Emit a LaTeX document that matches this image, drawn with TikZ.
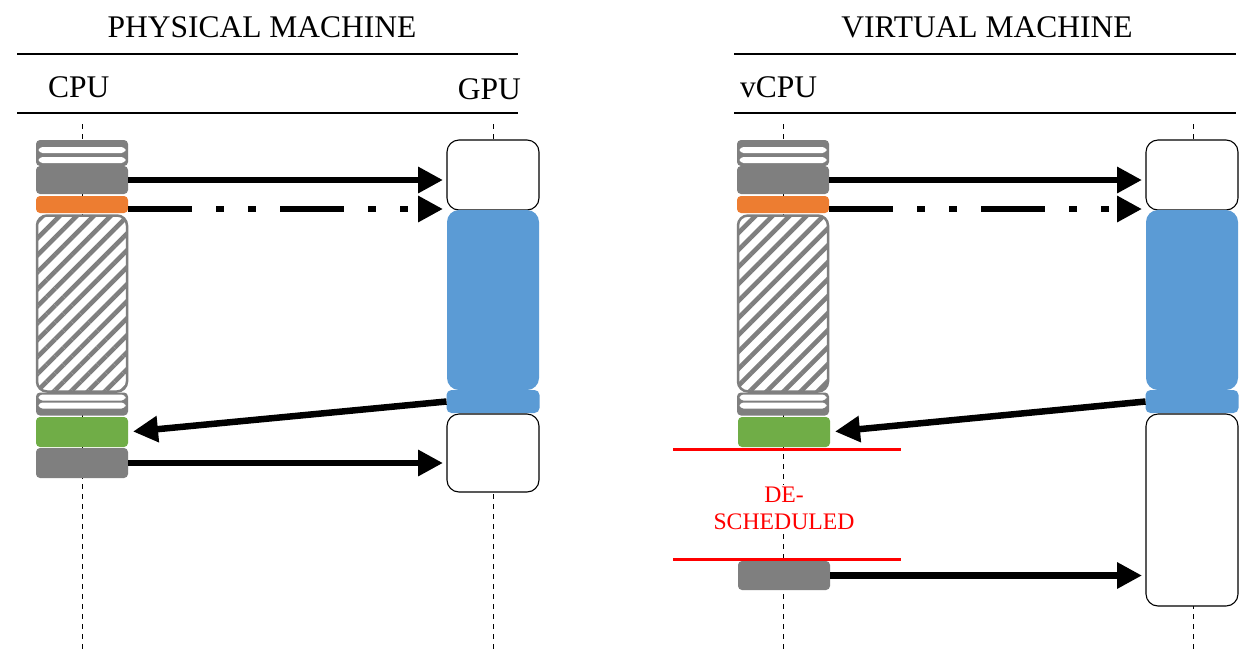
\documentclass[tikz,border=0pt]{standalone}
\usepackage{fontspec}
\setmainfont{Liberation Serif}
\usetikzlibrary{arrows.meta,patterns.meta,calc}

\definecolor{blkgray}{HTML}{7F7F7F}
\definecolor{blkorange}{HTML}{ED7D31}
\definecolor{blkgreen}{HTML}{70AD47}
\definecolor{blkblue}{HTML}{5B9BD5}
\definecolor{schedred}{HTML}{FF0000}

\tikzset{
  blk/.style 2 args={rectangle, inner sep=0pt, outer sep=0pt,
    minimum width=#1, minimum height=#2},
  cpublk/.style={blk={92pt}{#1}, rounded corners=4pt},
  solidblk/.style={cpublk=#1, fill=blkgray},
  orangeblk/.style={cpublk=#1, fill=blkorange},
  greenblk/.style={cpublk=#1, fill=blkgreen},
  % gray block with two white bands (idle time)
  bandblk/.style n args={3}{cpublk=#1, fill=blkgray,
    path picture={
      \fill[white] ($(path picture bounding box.north west)+(2.5pt,-#2)$)
        rectangle ($(path picture bounding box.north east)+(-2.5pt,-#2-6pt)$);
      \fill[white] ($(path picture bounding box.north west)+(2.5pt,-#3)$)
        rectangle ($(path picture bounding box.north east)+(-2.5pt,-#3-6pt)$);
    }},
  hatchblk/.style={blk={90pt}{#1}, rounded corners=10pt, draw=blkgray, line width=2.5pt,
    preaction={fill=white},
    pattern={Lines[angle=45,distance=12pt,line width=4.6pt]}, pattern color=blkgray},
  gpubox/.style={blk={92pt}{#1}, rounded corners=12pt, draw=black, line width=1.1pt, fill=white},
  bluebig/.style={blk={92pt}{#1}, rounded corners=12pt, fill=blkblue},
  bluesmall/.style={blk={93pt}{#1}, rounded corners=5pt, fill=blkblue},
  timeline/.style={line width=0.8pt, dash pattern=on 5pt off 5pt},
  rule/.style={line width=1.4pt},
  call/.style={line width=6.5pt, -{Triangle[length=25pt,width=25pt]}},
  callasync/.style={call, dash pattern=on 64pt off 24pt on 8pt off 24pt on 8pt off 24pt},
  schedline/.style={draw=schedred, line width=3pt},
  title/.style={font=\fontsize{31.5}{36}\selectfont},
  sched/.style={font=\fontsize{23.7}{27}\selectfont, text=schedred, align=center, fill=white, inner sep=2pt},
}

\begin{document}
\begin{tikzpicture}[x=1pt,y=-1pt]
\useasboundingbox[fill=white] (0,0) rectangle (1243,649);

% ---------------- headers ----------------
\node[title, anchor=base] (pmtitle) at (262,37) {PHYSICAL MACHINE};
\node[title, anchor=base] (vmtitle) at (987,37) {VIRTUAL MACHINE};
\draw[rule] (17,54) -- (518,54);
\draw[rule] (17,113) -- (518,113);
\draw[rule] (734,54) -- (1236,54);
\draw[rule] (734,113) -- (1236,113);
\node[title, anchor=base west, inner sep=0pt] (cpulbl) at (48,97) {CPU};
\node[title, anchor=base east, inner sep=0pt] (gpulbl) at (521,99) {GPU};
\node[title, anchor=base west, inner sep=0pt] (vcpulbl) at (740,97) {vCPU};

% ---------------- time lines ----------------
\draw[timeline] (82,124) -- (82,649);
\draw[timeline] (493,124) -- (493,649);
\draw[timeline] (783,124) -- (783,649);
\draw[timeline] (1193,124) -- (1193,649);

% ---------------- physical machine ----------------
\node[bandblk={26pt}{7pt}{17pt}] (ps1) at (82,153) {};
\node[solidblk=28pt] (pc1) at (82,180) {};
\node[orangeblk=17pt] (po1) at (82,204.5) {};
\node[hatchblk=176pt] (ph1) at (82,303.5) {};
\node[bandblk={23pt}{2pt}{10pt}] (ps2) at (82,404) {};
\node[greenblk=30pt] (pg1) at (82,432) {};
\node[solidblk=30pt] (pc2) at (82,463) {};

\node[gpubox=70pt] (pw1) at (493,175) {};
\node[bluebig=180pt] (pb1) at (493,300) {};
\node[bluesmall=23pt] (pb2) at (493,401.5) {};
\node[gpubox=78pt] (pw2) at (493,453) {};

\draw[call, shorten >=4pt] (pc1.east) -- (pc1.east -| pw1.west);
\coordinate (po1out) at ([yshift=-4.5pt]po1.east);
\draw[callasync, shorten >=4pt] (po1out) -- (po1out -| pw1.west);
\draw[call, shorten >=5pt] (pb2.west) -- (pg1.east);
\draw[call, shorten >=4pt] (pc2.east) -- (pc2.east -| pw2.west);

% ---------------- virtual machine ----------------
\node[bandblk={26pt}{7pt}{17pt}] (vs1) at (783,153) {};
\node[solidblk=28pt] (vc1) at (783,180) {};
\node[orangeblk=17pt] (vo1) at (783,204.5) {};
\node[hatchblk=176pt] (vh1) at (783,303.5) {};
\node[bandblk={23pt}{2pt}{10pt}] (vs2) at (783,404) {};
\node[greenblk=30pt] (vg1) at (784,432) {};
\node[solidblk=29pt] (vc2) at (784,575.5) {};

\node[gpubox=70pt] (vw1) at (1192,175) {};
\node[bluebig=180pt] (vb1) at (1192,300) {};
\node[bluesmall=23pt] (vb2) at (1192,401.5) {};
\node[gpubox=192pt] (vw2) at (1192,510) {};

\draw[schedline] (673,449) -- (901,449);
\draw[schedline] (673,559) -- (901,559);
\node[sched] (desched) at (784,508) {DE-\\SCHEDULED};

\draw[call, shorten >=4pt] (vc1.east) -- (vc1.east -| vw1.west);
\coordinate (vo1out) at ([yshift=-4.5pt]vo1.east);
\draw[callasync, shorten >=4pt] (vo1out) -- (vo1out -| vw1.west);
\draw[call, shorten >=5pt] (vb2.west) -- (vg1.east);
\draw[call, shorten >=4pt] (vc2.east) -- (vc2.east -| vw2.west);
\end{tikzpicture}
\end{document}
